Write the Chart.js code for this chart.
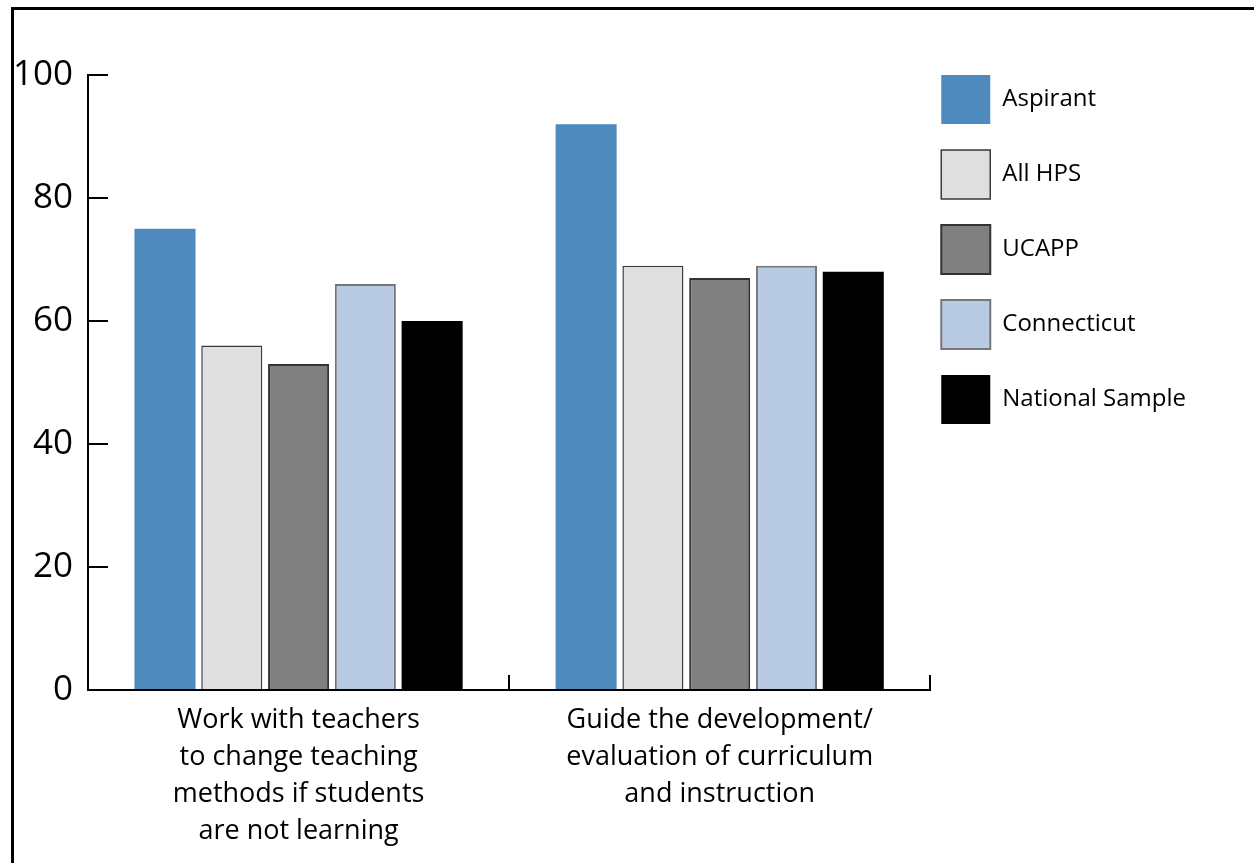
<!DOCTYPE html>
<html><head><meta charset="utf-8">
<script src="https://cdn.jsdelivr.net/npm/chart.js@4"></script>
<style>
html,body{margin:0;padding:0;background:#fff;overflow:hidden}
#wrap{position:relative;width:1254px;height:863px;background:#fff}
#frame{position:absolute;left:11px;top:7px;width:1400px;height:1000px;border:3px solid #000;box-sizing:border-box;pointer-events:none}
canvas{position:absolute;left:0;top:0}
</style></head><body>
<div id="wrap"><canvas id="c" width="1254" height="863"></canvas><div id="frame"></div></div>
<script>
const categories = [
  ["Work with teachers","to change teaching","methods if students","are not learning"],
  ["Guide the development/","evaluation of curriculum","and instruction"]
];
const seriesNames = ["Aspirant","All HPS","UCAPP","Connecticut","National Sample"];
const aspirant = [75, 92];
const allHPS = [56, 69];
const ucapp = [53, 67];
const connecticut = [66, 69];
const nationalSample = [60, 68];
const yTicks = [0, 20, 40, 60, 80, 100];

const seriesValues = [aspirant, allHPS, ucapp, connecticut, nationalSample];
const fills = ['#4f8abe', '#dfdfdf', '#808080', '#b9cbe3', '#000000'];
const borders = ['#4f8abe', '#3a3a3a', '#333333', '#777777', '#000000'];
const borderWidths = [0, 1.5, 2, 2, 0];

Chart.defaults.font.family = "'Open Sans', 'Noto Sans', sans-serif";
Chart.defaults.color = '#000';

const legendShift = {
  id: 'legendShift',
  afterLayout(chart) {
    const lg = chart.legend;
    const p = lg.options.labels.padding;
    lg.left = chart.chartArea.right + 11 - p;
    lg.top = chart.chartArea.top - p;
    lg.right = lg.left + lg.width;
    lg.bottom = lg.top + lg.height;
  }
};

new Chart(document.getElementById('c'), {
  type: 'bar',
  data: {
    labels: categories,
    datasets: seriesNames.map((n, i) => ({
      label: n,
      data: seriesValues[i],
      backgroundColor: fills[i],
      borderColor: borders[i],
      borderWidth: borderWidths[i],
      categoryPercentage: 0.793,
      barPercentage: 0.914
    }))
  },
  options: {
    responsive: false,
    animation: false,
    devicePixelRatio: 1,
    layout: { padding: { top: 75, left: 16, right: 43, bottom: 15 } },
    plugins: {
      legend: {
        position: 'right',
        align: 'start',
        labels: { boxWidth: 49, boxHeight: 49, padding: 26, color: '#000', font: { size: 24 } }
      },
      tooltip: { enabled: false }
    },
    scales: {
      x: {
        afterFit: (s) => { s.height = 158; },
        grid: { display: true, drawOnChartArea: false, drawTicks: true, tickLength: -15, color: '#000', lineWidth: 2, offset: true },
        border: { display: true, color: '#000', width: 2 },
        ticks: { color: '#000', font: { size: 27, lineHeight: 1.37 }, padding: 27, maxRotation: 0, autoSkip: false }
      },
      y: {
        min: 0, max: 100,
        afterFit: (s) => { s.width = 72; },
        afterBuildTicks: (s) => { s.ticks = yTicks.map(v => ({ value: v })); },
        grid: { drawOnChartArea: false, drawTicks: true, tickLength: -20, color: '#000', lineWidth: 2 },
        border: { display: true, color: '#000', width: 2 },
        ticks: { color: '#000', font: { size: 35 }, padding: 35 }
      }
    }
  },
  plugins: [legendShift]
});
</script>
</body></html>
